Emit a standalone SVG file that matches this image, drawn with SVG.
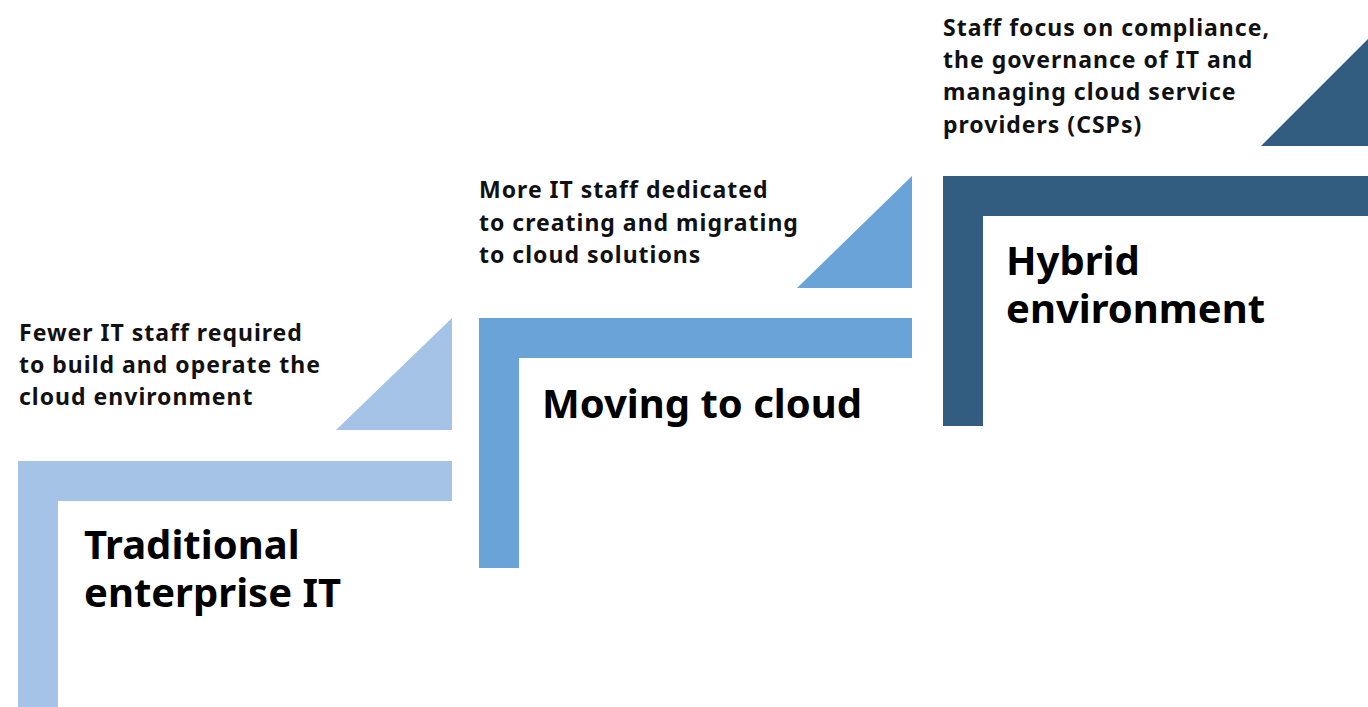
<svg xmlns="http://www.w3.org/2000/svg" width="1368" height="707" viewBox="0 0 1368 707">
<style>
.s{font-family:"Noto Sans","Liberation Sans",sans-serif;font-weight:bold;font-size:23px;letter-spacing:1px;fill:#111}
.t{font-family:"Noto Sans","Liberation Sans",sans-serif;font-weight:bold;font-size:40px;fill:#000}
.c1{fill:#A4C3E7}.c2{fill:#6AA3D8}.c3{fill:#335D80}
</style>
<rect width="1368" height="707" fill="#fff"/>
<g id="step1">
<path class="c1" d="M18 461H452V501H58V707H18Z"/>
<polygon class="c1" points="336,430 452,430 452,318"/>
<text class="s" x="19" y="341">Fewer IT staff required</text>
<text class="s" x="19" y="373">to build and operate the</text>
<text class="s" x="19" y="405">cloud environment</text>
<text class="t" x="84" y="559">Traditional</text>
<text class="t" x="84" y="607">enterprise IT</text>
</g>
<g id="step2">
<path class="c2" d="M479 318H912V358H519V568H479Z"/>
<polygon class="c2" points="797,288 912,288 912,176"/>
<text class="s" x="479" y="198">More IT staff dedicated</text>
<text class="s" x="479" y="231">to creating and migrating</text>
<text class="s" x="479" y="263">to cloud solutions</text>
<text class="t" x="542" y="418">Moving to cloud</text>
</g>
<g id="step3">
<path class="c3" d="M943 176H1368V216H983V426H943Z"/>
<polygon class="c3" points="1261,146 1368,146 1368,39"/>
<text class="s" x="943" y="36">Staff focus on compliance,</text>
<text class="s" x="943" y="68">the governance of IT and</text>
<text class="s" x="943" y="100">managing cloud service</text>
<text class="s" x="943" y="133">providers (CSPs)</text>
<text class="t" x="1006" y="275">Hybrid</text>
<text class="t" x="1006" y="323">environment</text>
</g>
<g id="connectors"/>
</svg>
